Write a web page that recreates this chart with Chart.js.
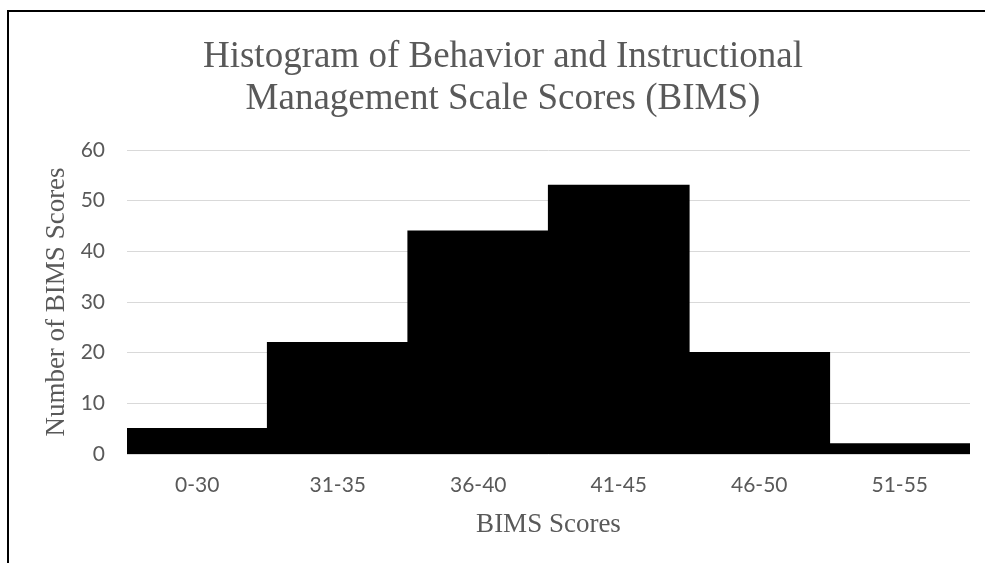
<!DOCTYPE html>
<html>
<head>
<meta charset="utf-8">
<script src="https://cdn.jsdelivr.net/npm/chart.js@4/dist/chart.umd.min.js"></script>
<style>
    html, body { margin: 0; padding: 0; background: #fff; overflow: hidden; }
    body { width: 985px; height: 563px; position: relative; }
    #frame {
        position: absolute; left: 7px; top: 10px;
        width: 1000px; height: 600px;
        border-top: 2px solid #000; border-left: 2px solid #000;
    }
    #chart { position: absolute; left: 36px; top: 0; }
</style>
</head>
<body>
<div id="frame"></div>
<canvas id="chart" width="934" height="563"></canvas>
<script>
// score bins and their counts
const bins = ['0-30', '31-35', '36-40', '41-45', '46-50', '51-55'];
const counts = [5, 22, 44, 53, 20, 2];
const yTicks = [0, 10, 20, 30, 40, 50, 60];

const chartTitle = ['Histogram of Behavior and Instructional', 'Management Scale Scores (BIMS)'];
const xTitle = 'BIMS Scores';
const yTitle = 'Number of BIMS Scores';

const grey = '#595959';

new Chart(document.getElementById('chart'), {
    type: 'bar',
    data: {
        labels: bins,
        datasets: [{
            label: yTitle,
            data: counts,
            backgroundColor: '#000',
            borderWidth: 0,
            inflateAmount: 0.6,
            barPercentage: 1,
            categoryPercentage: 1,
        }],
    },
    options: {
        responsive: false,
        animation: false,
        layout: { padding: { top: 0, left: 0, right: 0, bottom: 22 } },
        plugins: {
            legend: { display: false },
            tooltip: { enabled: false },
            title: {
                display: true,
                text: chartTitle,
                color: grey,
                font: { family: '"Liberation Serif", "Times New Roman", serif', size: 37, weight: 'normal', lineHeight: 42 / 37 },
                padding: { top: 36, bottom: 30 },
            },
        },
        scales: {
            x: {
                afterFit(scale) {
                    scale.height = 87;
                },
                grid: { display: false, drawTicks: false },
                border: { display: false },
                ticks: {
                    color: grey,
                    padding: 19,
                    font: { family: 'Lato, sans-serif', size: 21 },
                },
                title: {
                    display: true,
                    text: xTitle,
                    color: grey,
                    font: { family: '"Liberation Serif", serif', size: 27 },
                    padding: { top: 0, bottom: 0 },
                },
            },
            y: {
                min: 0,
                max: 60,
                afterBuildTicks(scale) {
                    scale.ticks = yTicks.map(v => ({ value: v }));
                },
                afterFit(scale) {
                    scale.width = 91;
                },
                grid: { color: '#d9d9d9', lineWidth: 1, drawTicks: false },
                border: { display: false },
                ticks: {
                    color: grey,
                    padding: 22,
                    font: { family: 'Lato, sans-serif', size: 21 },
                },
                title: {
                    display: true,
                    text: yTitle,
                    color: grey,
                    font: { family: '"Liberation Serif", serif', size: 27 },
                    padding: { top: 5, bottom: 0 },
                },
            },
        },
    },
});
</script>
</body>
</html>
